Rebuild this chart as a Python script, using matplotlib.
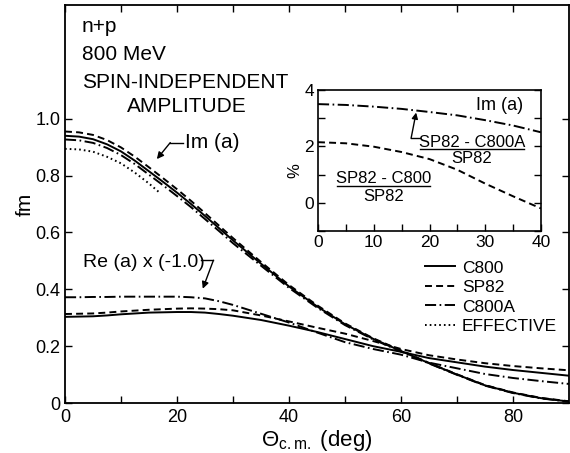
import matplotlib
matplotlib.use('Agg')
import matplotlib.pyplot as plt
from matplotlib.ticker import MultipleLocator, FixedLocator

plt.rcParams['font.family'] = ['Liberation Sans', 'DejaVu Sans']
plt.rcParams['mathtext.fontset'] = 'custom'
plt.rcParams['mathtext.rm'] = 'Liberation Sans'
plt.rcParams['mathtext.it'] = 'Liberation Sans'
plt.rcParams['lines.scale_dashes'] = False

# main panel: spin-independent amplitude (fm) vs c.m. angle (deg)
theta = [0, 2.5, 5, 7.5, 10, 12.5, 15, 17.5, 20, 22.5, 25, 27.5, 30,
         35, 40, 45, 50, 55, 60, 65, 70, 75, 80, 85, 90]
im_c800 = [0.940, 0.937, 0.928, 0.910, 0.885, 0.852, 0.815, 0.778, 0.740, 0.700, 0.658,
           0.615, 0.572, 0.490, 0.410, 0.340, 0.277, 0.226, 0.183, 0.140, 0.100, 0.062,
           0.036, 0.017, 0.005]
im_sp82 = [0.955, 0.952, 0.943, 0.925, 0.899, 0.866, 0.829, 0.791, 0.752, 0.711, 0.668,
           0.624, 0.580, 0.496, 0.415, 0.344, 0.280, 0.228, 0.185, 0.141, 0.101, 0.063,
           0.037, 0.018, 0.006]
im_c800a = [0.927, 0.924, 0.915, 0.897, 0.872, 0.840, 0.803, 0.766, 0.728, 0.689, 0.647,
            0.605, 0.562, 0.483, 0.405, 0.336, 0.274, 0.224, 0.181, 0.139, 0.099, 0.061,
            0.035, 0.016, 0.005]
theta_eff = [0, 2.5, 5, 7.5, 10, 12.5, 15, 17]
im_eff = [0.894, 0.892, 0.884, 0.866, 0.843, 0.810, 0.772, 0.738]

re_c800 = [0.303, 0.304, 0.305, 0.308, 0.312, 0.315, 0.318, 0.319, 0.320, 0.320, 0.318,
           0.313, 0.307, 0.292, 0.272, 0.250, 0.225, 0.200, 0.180, 0.158, 0.143, 0.128,
           0.116, 0.106, 0.096]
re_sp82 = [0.313, 0.314, 0.315, 0.318, 0.322, 0.325, 0.328, 0.330, 0.332, 0.333, 0.332,
           0.330, 0.326, 0.308, 0.287, 0.265, 0.244, 0.218, 0.190, 0.168, 0.153, 0.140,
           0.130, 0.122, 0.115]
re_c800a = [0.372, 0.372, 0.373, 0.373, 0.374, 0.374, 0.374, 0.374, 0.374, 0.372, 0.368,
            0.358, 0.345, 0.314, 0.283, 0.248, 0.214, 0.190, 0.170, 0.142, 0.122, 0.102,
            0.088, 0.077, 0.067]

# inset: percent differences of Im(a)
ins_theta = [0, 5, 10, 15, 20, 25, 30, 35, 40]
pct_c800a = [3.50, 3.47, 3.41, 3.33, 3.22, 3.10, 2.93, 2.74, 2.50]
pct_c800 = [2.15, 2.11, 1.99, 1.80, 1.55, 1.17, 0.68, 0.23, -0.20]

series_names = ['C800', 'SP82', 'C800A', 'EFFECTIVE']
solid = '-'
dashed = (0, (5, 3))
dashdot = (0, (8, 2.5, 1.2, 2.5))
dotted = (0, (1.2, 2.2))
lw = 1.4

fig = plt.figure(figsize=(5.70, 4.53), dpi=100)
ax = fig.add_axes([65 / 570, 50 / 453, 504 / 570, 398 / 453])

ax.plot(theta, im_c800, color='black', ls=solid, lw=lw, label=series_names[0])
ax.plot(theta, im_sp82, color='black', ls=dashed, lw=lw, label=series_names[1])
ax.plot(theta, im_c800a, color='black', ls=dashdot, lw=lw, label=series_names[2])
ax.plot(theta_eff, im_eff, color='black', ls=dotted, lw=lw, label=series_names[3])
ax.plot(theta, re_c800, color='black', ls=solid, lw=lw)
ax.plot(theta, re_sp82, color='black', ls=dashed, lw=lw)
ax.plot(theta, re_c800a, color='black', ls=dashdot, lw=lw)

ax.set_xlim(0, 90)
ax.set_ylim(0, 1.4)
ax.xaxis.set_major_locator(FixedLocator([0, 20, 40, 60, 80]))
ax.xaxis.set_minor_locator(FixedLocator([10, 30, 50, 70]))
ax.yaxis.set_major_locator(FixedLocator([0, 0.2, 0.4, 0.6, 0.8, 1.0]))
ax.set_yticklabels(['0', '0.2', '0.4', '0.6', '0.8', '1.0'])
ax.tick_params(which='both', direction='in', top=True, right=True, labelsize=13,
               width=1.0, length=5, colors='black')
ax.tick_params(axis='x', pad=4)
for sp in ax.spines.values():
    sp.set_linewidth(1.3)

ax.set_ylabel('fm', fontsize=15, labelpad=0)
ax.set_xlabel(r'$\Theta_{\mathrm{c.m.}}$ (deg)', fontsize=16, labelpad=2)

tx = fig.transFigure
ax.text(82 / 570, 1 - 27 / 453, 'n+p', transform=tx, fontsize=15, va='center', ha='left')
ax.text(82 / 570, 1 - 55 / 453, '800 MeV', transform=tx, fontsize=15, va='center', ha='left')
ax.text(82 / 570, 1 - 82 / 453, 'SPIN-INDEPENDENT', transform=tx, fontsize=15,
        va='center', ha='left')
ax.text(187 / 570, 1 - 107 / 453, 'AMPLITUDE', transform=tx, fontsize=15,
        va='center', ha='center')

# Im(a) label with hooked arrow
ax.text(21.5, 0.916, 'Im (a)', fontsize=15, va='center', ha='left')
ax.plot([21.0, 18.8], [0.916, 0.916], color='black', lw=1.0)
ax.annotate('', xy=(16.4, 0.858), xytext=(18.8, 0.916),
            arrowprops=dict(arrowstyle='-|>', color='black', lw=1.0,
                            mutation_scale=10, shrinkA=0, shrinkB=0))
# Re(a) label with hooked arrow
ax.text(3.2, 0.495, 'Re (a) x (-1.0)', fontsize=14, va='center', ha='left')
ax.plot([24.3, 26.5], [0.502, 0.502], color='black', lw=1.0)
ax.annotate('', xy=(24.6, 0.402), xytext=(26.5, 0.502),
            arrowprops=dict(arrowstyle='-|>', color='black', lw=1.0,
                            mutation_scale=10, shrinkA=0, shrinkB=0))

ax.legend(loc='upper left', bbox_to_anchor=(0.708, 0.367), frameon=False, fontsize=12.5,
          handlelength=1.7, handletextpad=0.4, labelspacing=0.25, borderpad=0.2,
          borderaxespad=0)

# inset
ins = fig.add_axes([318 / 570, 1 - 231 / 453, 223 / 570, 141 / 453])
ins.plot(ins_theta, pct_c800a, color='black', ls=dashdot, lw=lw)
ins.plot(ins_theta, pct_c800, color='black', ls=dashed, lw=lw)
ins.set_xlim(0, 40)
ins.set_ylim(-1, 4)
ins.xaxis.set_major_locator(MultipleLocator(10))
ins.xaxis.set_minor_locator(MultipleLocator(5))
ins.yaxis.set_major_locator(FixedLocator([0, 2, 4]))
ins.yaxis.set_minor_locator(FixedLocator([-1, 1, 3]))
ins.tick_params(which='both', direction='in', right=True, labelsize=12.5, length=5,
                width=1.0, pad=3)
for sp in ins.spines.values():
    sp.set_linewidth(1.2)
ins.text(-0.105, 0.43, '%', transform=ins.transAxes, rotation=90, fontsize=12,
         ha='center', va='center')
ins.text(32.6, 3.45, 'Im (a)', fontsize=13, ha='center', va='center')
ins.text(27.6, 2.15, 'SP82 - C800A', fontsize=12, ha='center', va='center')
ins.plot([18.3, 37.0], [1.92, 1.92], color='black', lw=1.0)
ins.text(27.6, 1.58, 'SP82', fontsize=12, ha='center', va='center')
ins.text(11.8, 0.87, 'SP82 - C800', fontsize=12, ha='center', va='center')
ins.plot([3.4, 20.0], [0.59, 0.59], color='black', lw=1.0)
ins.text(11.8, 0.22, 'SP82', fontsize=12, ha='center', va='center')
ins.plot([18.3, 16.7], [2.29, 2.29], color='black', lw=1.0)
ins.annotate('', xy=(17.6, 3.2), xytext=(16.7, 2.29),
             arrowprops=dict(arrowstyle='-|>', color='black', lw=1.0,
                             mutation_scale=9, shrinkA=0, shrinkB=0))

fig.savefig('out.png', dpi=100)
